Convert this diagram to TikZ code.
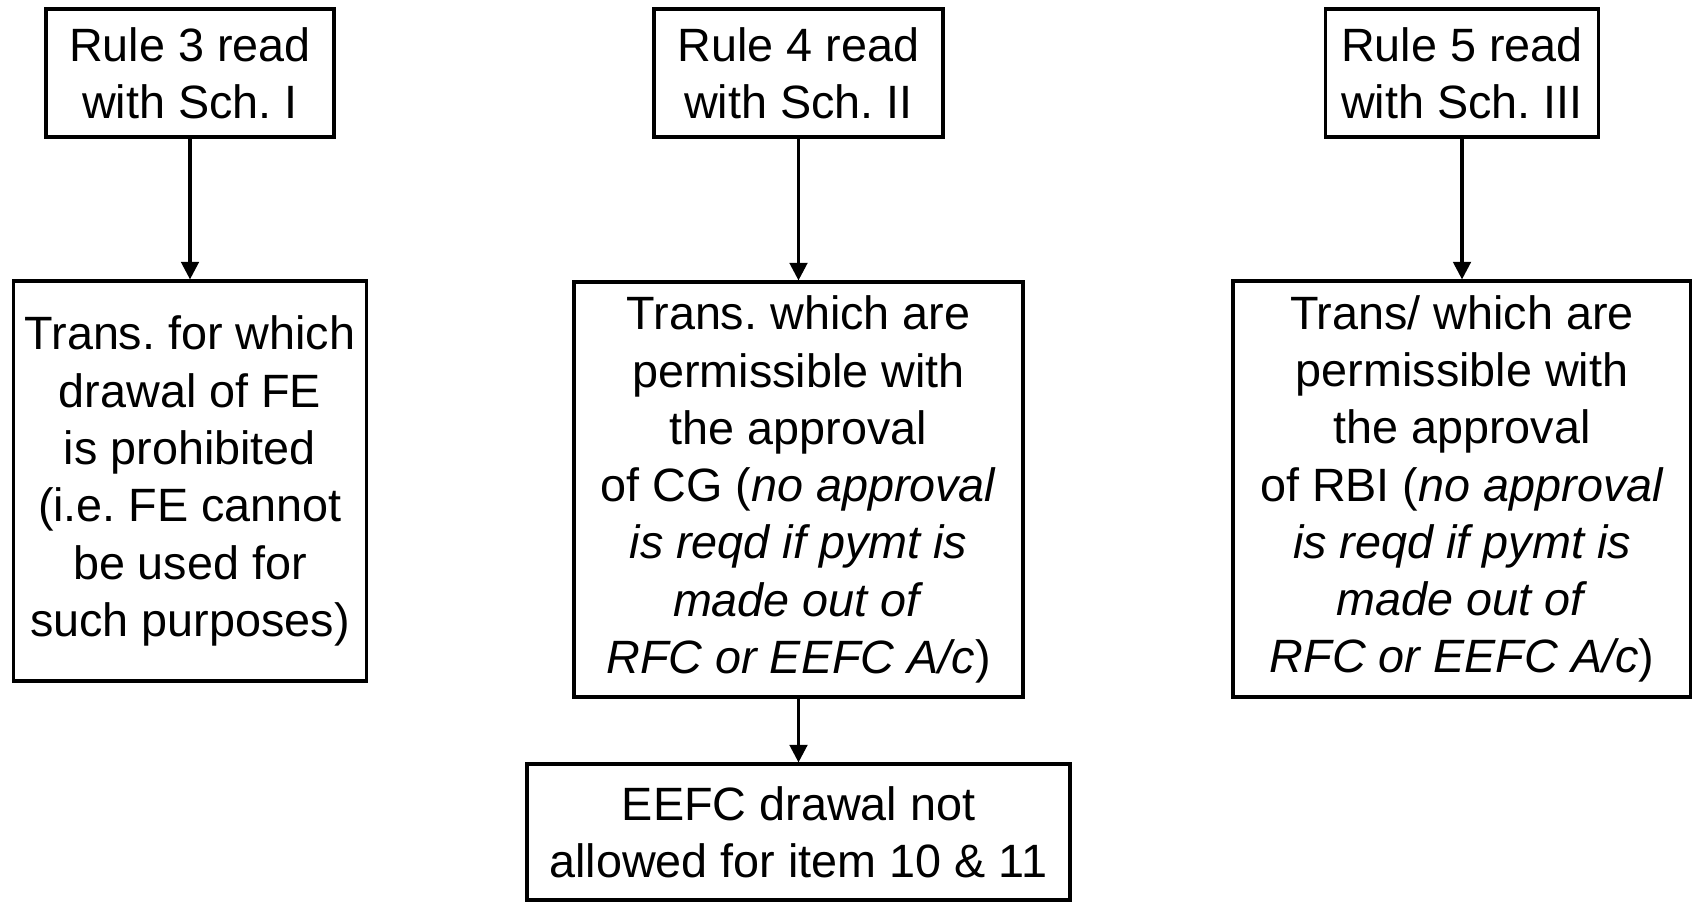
\documentclass[tikz,border=0pt]{standalone}
\usepackage{fontspec}
\setmainfont{Liberation Sans}
\usetikzlibrary{arrows.meta}
\frenchspacing

\begin{document}
\begin{tikzpicture}[
    rulebox/.style={draw, line width=0.9pt, align=center, inner sep=0pt,
                    font=\fontsize{13.3pt}{16.3pt}\selectfont},
    >={Triangle[length=5pt,width=5pt]}]
%
         \useasboundingbox (0,0) rectangle (16.92,9.02);

         \node [rulebox, minimum width=2.88cm, minimum height=1.28cm] (A) at (1.90,8.29)
               {Rule 3 read\\with Sch. I};
         \node [rulebox, minimum width=3.53cm, minimum height=4.00cm] (B) at (1.90,4.21)
               {Trans. for which\\drawal of FE\\is prohibited\\(i.e. FE cannot\\be used for\\such purposes)};

         \node [rulebox, minimum width=2.89cm, minimum height=1.28cm] (C) at (7.985,8.29)
               {Rule 4 read\\with Sch. II};
         \node [rulebox, minimum width=4.49cm, minimum height=4.15cm] (D) at (7.985,4.125)
               {Trans. which are\\permissible with\\the approval\\of CG (\textit{no approval}\\\textit{is reqd if pymt is}\\\textit{made out of}\\\textit{RFC or EEFC A/c})};
         \node [rulebox, minimum width=5.43cm, minimum height=1.36cm] (E) at (7.985,0.70)
               {EEFC drawal not\\allowed for item 10 \& 11};

         \node [rulebox, minimum width=2.73cm, minimum height=1.28cm] (F) at (14.62,8.29)
               {Rule 5 read\\with Sch. III};
         \node [rulebox, minimum width=4.58cm, minimum height=4.16cm] (G) at (14.62,4.13)
               {Trans/ which are\\permissible with\\the approval\\of RBI (\textit{no approval}\\\textit{is reqd if pymt is}\\\textit{made out of}\\\textit{RFC or EEFC A/c})};

         \draw [->, line width=0.9pt] (A) -- (B);
         \draw [->, line width=0.9pt] (C) -- (D);
         \draw [->, line width=0.9pt] (D) -- (E);
         \draw [->, line width=0.9pt] (F) -- (G);

\end{tikzpicture}
\end{document}
